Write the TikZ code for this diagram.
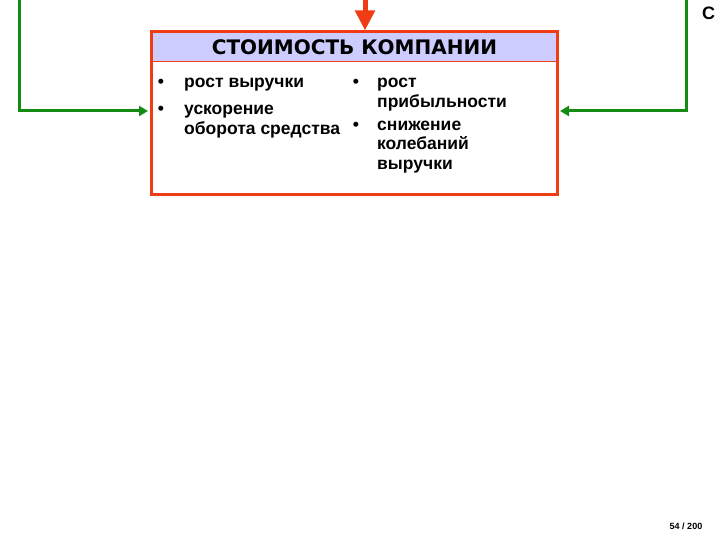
\documentclass[tikz,border=0pt]{standalone}
\usepackage{fontspec}
\setmainfont{Liberation Sans}
\newfontfamily\titlefont{DejaVu Sans}
\usetikzlibrary{positioning,arrows.meta}
\definecolor{boxred}{RGB}{240,60,20}
\definecolor{bandblue}{RGB}{204,204,255}
\definecolor{loopgreen}{RGB}{20,140,20}
\begin{document}
\begin{tikzpicture}[x=1pt, y=-1pt,
  frame/.style={draw=boxred, line width=3pt, minimum width=406.5pt, minimum height=163pt, inner sep=0pt},
  item/.style={font=\fontsize{17.5}{20}\selectfont\bfseries, anchor=base west, inner sep=0pt},
  dot/.style={font=\fontsize{17.5}{20}\selectfont\bfseries, anchor=base, inner sep=0pt},
  push/.style={draw=boxred, line width=5pt, -{Triangle[length=20pt, width=19pt]}},
  feed/.style={draw=loopgreen, line width=3pt, -{Triangle[length=9pt, width=10pt]}}]
\useasboundingbox (0,0) rectangle (720,540);

% title band
\fill[bandblue] (151,32) rectangle (557.5,62);
\draw[boxred, line width=1pt] (151,62) -- (557.5,62);
\node[frame] (value) at (354.25,113.5) {};
\node[font=\titlefont\fontsize{20}{24}\selectfont\bfseries, inner sep=0pt] (title) at (354.5,47.5) {СТОИМОСТЬ КОМПАНИИ};

% left column
\node[dot] (d1) at (161,88) {•};
\node[item] (i1) at (184,88) {рост выручки};
\node[dot] (d2) at (161,115) {•};
\node[item] (i2) at (184,115) {ускорение};
\node[item] (i2b) at (184,135) {оборота средства};

% right column
\node[dot] (d3) at (356,88) {•};
\node[item] (i3) at (377,88) {рост};
\node[item] (i3b) at (377,107.5) {прибыльности};
\node[dot] (d4) at (356,130.5) {•};
\node[item] (i4) at (377,130.5) {снижение};
\node[item] (i4b) at (377,150) {колебаний};
\node[item] (i4c) at (377,169.5) {выручки};

% inputs
\coordinate (redtop) at (365,0);
\draw[push] (redtop) -- (redtop |- value.north);
\coordinate (lefttop) at (19,0);
\coordinate (leftin) at (148,111);
\draw[feed] (lefttop) |- (leftin);
\coordinate (righttop) at (686,0);
\coordinate (rightin) at (560,111);
\draw[feed] (righttop) |- (rightin);

\node[font=\fontsize{18}{20}\selectfont\bfseries, inner sep=0pt] (mark) at (708.5,13.5) {С};
\node[font=\fontsize{9}{10}\selectfont\bfseries, inner sep=0pt] (page) at (686,526) {54 / 200};
\end{tikzpicture}
\end{document}
